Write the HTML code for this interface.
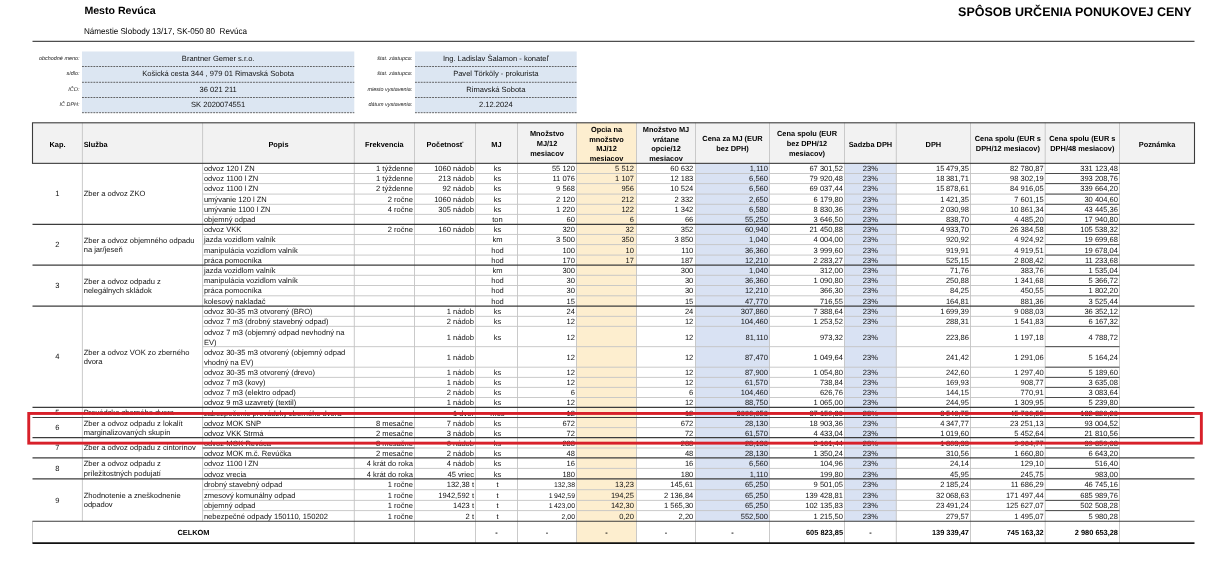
<!DOCTYPE html><html lang="sk"><head><meta charset="utf-8"><title>Spôsob určenia ponukovej ceny</title><style>
html,body{margin:0;padding:0;background:#fff;}
body{width:1223px;height:574px;position:relative;overflow:hidden;text-rendering:geometricPrecision;font-family:"Liberation Sans",sans-serif;color:#111;}
svg.g{position:absolute;left:0;top:0;}
.t{position:absolute;height:10px;line-height:10px;font-size:7.55px;white-space:nowrap;}
.t.l{text-align:left;}
.t.r{text-align:right;}
.t.c{text-align:center;}
.t.b{font-weight:bold;font-size:7.4px;color:#000;}
.t.sm{font-size:6.9px;}
.t.lab{font-style:italic;font-size:5.45px;color:#222;}
.t.val{font-size:7.55px;}
.ttl{position:absolute;white-space:nowrap;font-weight:bold;color:#000;}
</style></head><body>
<svg class="g" width="1223" height="574" viewBox="0 0 1223 574"><rect x="32.50" y="122.80" width="1162.00" height="40.55" fill="#f2f2f2"/>
<rect x="576.50" y="122.80" width="60.00" height="420.30" fill="#fdeecf"/>
<rect x="695.50" y="163.35" width="74.00" height="357.85" fill="#d9e2f3"/>
<rect x="844.50" y="163.35" width="51.80" height="357.85" fill="#d9e2f3"/>
<line x1="202.60" y1="173.50" x2="1119.50" y2="173.50" stroke="#c4c4c4" stroke-width="0.9"/>
<line x1="202.60" y1="183.60" x2="1119.50" y2="183.60" stroke="#c4c4c4" stroke-width="0.9"/>
<line x1="202.60" y1="194.10" x2="1119.50" y2="194.10" stroke="#c4c4c4" stroke-width="0.9"/>
<line x1="202.60" y1="204.30" x2="1119.50" y2="204.30" stroke="#c4c4c4" stroke-width="0.9"/>
<line x1="202.60" y1="214.40" x2="1119.50" y2="214.40" stroke="#c4c4c4" stroke-width="0.9"/>
<line x1="202.60" y1="234.45" x2="1119.50" y2="234.45" stroke="#c4c4c4" stroke-width="0.9"/>
<line x1="202.60" y1="244.60" x2="1119.50" y2="244.60" stroke="#c4c4c4" stroke-width="0.9"/>
<line x1="202.60" y1="255.10" x2="1119.50" y2="255.10" stroke="#c4c4c4" stroke-width="0.9"/>
<line x1="202.60" y1="275.30" x2="1119.50" y2="275.30" stroke="#c4c4c4" stroke-width="0.9"/>
<line x1="202.60" y1="285.50" x2="1119.50" y2="285.50" stroke="#c4c4c4" stroke-width="0.9"/>
<line x1="202.60" y1="295.80" x2="1119.50" y2="295.80" stroke="#c4c4c4" stroke-width="0.9"/>
<line x1="202.60" y1="316.35" x2="1119.50" y2="316.35" stroke="#c4c4c4" stroke-width="0.9"/>
<line x1="202.60" y1="326.35" x2="1119.50" y2="326.35" stroke="#c4c4c4" stroke-width="0.9"/>
<line x1="202.60" y1="346.65" x2="1119.50" y2="346.65" stroke="#c4c4c4" stroke-width="0.9"/>
<line x1="202.60" y1="367.20" x2="1119.50" y2="367.20" stroke="#c4c4c4" stroke-width="0.9"/>
<line x1="202.60" y1="377.40" x2="1119.50" y2="377.40" stroke="#c4c4c4" stroke-width="0.9"/>
<line x1="202.60" y1="387.40" x2="1119.50" y2="387.40" stroke="#c4c4c4" stroke-width="0.9"/>
<line x1="202.60" y1="397.50" x2="1119.50" y2="397.50" stroke="#c4c4c4" stroke-width="0.9"/>
<line x1="202.60" y1="427.60" x2="1119.50" y2="427.60" stroke="#c4c4c4" stroke-width="0.9"/>
<line x1="202.60" y1="448.00" x2="1119.50" y2="448.00" stroke="#c4c4c4" stroke-width="0.9"/>
<line x1="202.60" y1="468.40" x2="1119.50" y2="468.40" stroke="#c4c4c4" stroke-width="0.9"/>
<line x1="202.60" y1="489.70" x2="1119.50" y2="489.70" stroke="#c4c4c4" stroke-width="0.9"/>
<line x1="202.60" y1="500.40" x2="1119.50" y2="500.40" stroke="#c4c4c4" stroke-width="0.9"/>
<line x1="202.60" y1="510.60" x2="1119.50" y2="510.60" stroke="#c4c4c4" stroke-width="0.9"/>
<line x1="82.40" y1="122.80" x2="82.40" y2="521.20" stroke="#c4c4c4" stroke-width="0.9"/>
<line x1="202.60" y1="122.80" x2="202.60" y2="521.20" stroke="#c4c4c4" stroke-width="0.9"/>
<line x1="354.30" y1="122.80" x2="354.30" y2="543.10" stroke="#c4c4c4" stroke-width="0.9"/>
<line x1="414.50" y1="122.80" x2="414.50" y2="543.10" stroke="#c4c4c4" stroke-width="0.9"/>
<line x1="475.50" y1="122.80" x2="475.50" y2="543.10" stroke="#c4c4c4" stroke-width="0.9"/>
<line x1="517.50" y1="122.80" x2="517.50" y2="543.10" stroke="#c4c4c4" stroke-width="0.9"/>
<line x1="576.50" y1="122.80" x2="576.50" y2="543.10" stroke="#c4c4c4" stroke-width="0.9"/>
<line x1="636.50" y1="122.80" x2="636.50" y2="543.10" stroke="#c4c4c4" stroke-width="0.9"/>
<line x1="695.50" y1="122.80" x2="695.50" y2="543.10" stroke="#c4c4c4" stroke-width="0.9"/>
<line x1="769.50" y1="122.80" x2="769.50" y2="543.10" stroke="#c4c4c4" stroke-width="0.9"/>
<line x1="844.50" y1="122.80" x2="844.50" y2="543.10" stroke="#c4c4c4" stroke-width="0.9"/>
<line x1="896.30" y1="122.80" x2="896.30" y2="543.10" stroke="#c4c4c4" stroke-width="0.9"/>
<line x1="970.50" y1="122.80" x2="970.50" y2="543.10" stroke="#c4c4c4" stroke-width="0.9"/>
<line x1="1045.20" y1="122.80" x2="1045.20" y2="543.10" stroke="#c4c4c4" stroke-width="0.9"/>
<line x1="1119.50" y1="122.80" x2="1119.50" y2="543.10" stroke="#c4c4c4" stroke-width="0.9"/>
<line x1="32.50" y1="521.20" x2="32.50" y2="543.10" stroke="#c4c4c4" stroke-width="0.9"/>
<line x1="1045.20" y1="173.50" x2="1119.50" y2="173.50" stroke="#3c3c3c" stroke-width="0.9"/>
<line x1="1045.20" y1="183.60" x2="1119.50" y2="183.60" stroke="#3c3c3c" stroke-width="0.9"/>
<line x1="1045.20" y1="194.10" x2="1119.50" y2="194.10" stroke="#3c3c3c" stroke-width="0.9"/>
<line x1="1045.20" y1="204.30" x2="1119.50" y2="204.30" stroke="#3c3c3c" stroke-width="0.9"/>
<line x1="1045.20" y1="214.40" x2="1119.50" y2="214.40" stroke="#3c3c3c" stroke-width="0.9"/>
<line x1="1045.20" y1="234.45" x2="1119.50" y2="234.45" stroke="#3c3c3c" stroke-width="0.9"/>
<line x1="1045.20" y1="244.60" x2="1119.50" y2="244.60" stroke="#3c3c3c" stroke-width="0.9"/>
<line x1="1045.20" y1="255.10" x2="1119.50" y2="255.10" stroke="#3c3c3c" stroke-width="0.9"/>
<line x1="1045.20" y1="275.30" x2="1119.50" y2="275.30" stroke="#3c3c3c" stroke-width="0.9"/>
<line x1="1045.20" y1="285.50" x2="1119.50" y2="285.50" stroke="#3c3c3c" stroke-width="0.9"/>
<line x1="1045.20" y1="295.80" x2="1119.50" y2="295.80" stroke="#3c3c3c" stroke-width="0.9"/>
<line x1="1045.20" y1="316.35" x2="1119.50" y2="316.35" stroke="#3c3c3c" stroke-width="0.9"/>
<line x1="1045.20" y1="326.35" x2="1119.50" y2="326.35" stroke="#3c3c3c" stroke-width="0.9"/>
<line x1="1045.20" y1="346.65" x2="1119.50" y2="346.65" stroke="#3c3c3c" stroke-width="0.9"/>
<line x1="1045.20" y1="367.20" x2="1119.50" y2="367.20" stroke="#3c3c3c" stroke-width="0.9"/>
<line x1="1045.20" y1="377.40" x2="1119.50" y2="377.40" stroke="#3c3c3c" stroke-width="0.9"/>
<line x1="1045.20" y1="387.40" x2="1119.50" y2="387.40" stroke="#3c3c3c" stroke-width="0.9"/>
<line x1="1045.20" y1="397.50" x2="1119.50" y2="397.50" stroke="#3c3c3c" stroke-width="0.9"/>
<line x1="1045.20" y1="427.60" x2="1119.50" y2="427.60" stroke="#3c3c3c" stroke-width="0.9"/>
<line x1="1045.20" y1="448.00" x2="1119.50" y2="448.00" stroke="#3c3c3c" stroke-width="0.9"/>
<line x1="1045.20" y1="468.40" x2="1119.50" y2="468.40" stroke="#3c3c3c" stroke-width="0.9"/>
<line x1="1045.20" y1="489.70" x2="1119.50" y2="489.70" stroke="#3c3c3c" stroke-width="0.9"/>
<line x1="1045.20" y1="500.40" x2="1119.50" y2="500.40" stroke="#3c3c3c" stroke-width="0.9"/>
<line x1="1045.20" y1="510.60" x2="1119.50" y2="510.60" stroke="#3c3c3c" stroke-width="0.9"/>
<line x1="202.60" y1="427.60" x2="414.50" y2="427.60" stroke="#3c3c3c" stroke-width="0.9"/>
<line x1="202.60" y1="448.00" x2="414.50" y2="448.00" stroke="#3c3c3c" stroke-width="0.9"/>
<line x1="32.50" y1="224.35" x2="1194.50" y2="224.35" stroke="#3c3c3c" stroke-width="1.1"/>
<line x1="32.50" y1="265.10" x2="1194.50" y2="265.10" stroke="#3c3c3c" stroke-width="1.1"/>
<line x1="32.50" y1="306.10" x2="1194.50" y2="306.10" stroke="#3c3c3c" stroke-width="1.1"/>
<line x1="32.50" y1="407.40" x2="1194.50" y2="407.40" stroke="#3c3c3c" stroke-width="1.1"/>
<line x1="32.50" y1="417.50" x2="1194.50" y2="417.50" stroke="#3c3c3c" stroke-width="1.1"/>
<line x1="32.50" y1="437.60" x2="1194.50" y2="437.60" stroke="#3c3c3c" stroke-width="1.1"/>
<line x1="32.50" y1="457.90" x2="1194.50" y2="457.90" stroke="#3c3c3c" stroke-width="1.1"/>
<line x1="32.50" y1="478.90" x2="1194.50" y2="478.90" stroke="#3c3c3c" stroke-width="1.1"/>
<line x1="32.50" y1="521.20" x2="1194.50" y2="521.20" stroke="#3c3c3c" stroke-width="1.1"/>
<rect x="32.50" y="122.80" width="1162.00" height="40.55" fill="none" stroke="#3c3c3c" stroke-width="1.1"/>
<line x1="32.50" y1="543.10" x2="1194.50" y2="543.10" stroke="#111" stroke-width="1.6"/>
<line x1="32.50" y1="41.30" x2="1194.50" y2="41.30" stroke="#222" stroke-width="1.0"/>
<rect x="82.00" y="51.50" width="272.30" height="61.20" fill="#dce6f2"/>
<rect x="415.00" y="51.50" width="161.70" height="61.20" fill="#dce6f2"/>
<line x1="82.00" y1="66.50" x2="354.30" y2="66.50" stroke="#555" stroke-width="0.9" stroke-dasharray="1.9 0.95"/>
<line x1="415.00" y1="66.50" x2="576.70" y2="66.50" stroke="#555" stroke-width="0.9" stroke-dasharray="1.9 0.95"/>
<line x1="82.00" y1="82.30" x2="354.30" y2="82.30" stroke="#555" stroke-width="0.9" stroke-dasharray="1.9 0.95"/>
<line x1="415.00" y1="82.30" x2="576.70" y2="82.30" stroke="#555" stroke-width="0.9" stroke-dasharray="1.9 0.95"/>
<line x1="82.00" y1="97.50" x2="354.30" y2="97.50" stroke="#555" stroke-width="0.9" stroke-dasharray="1.9 0.95"/>
<line x1="415.00" y1="97.50" x2="576.70" y2="97.50" stroke="#555" stroke-width="0.9" stroke-dasharray="1.9 0.95"/>
<line x1="82.00" y1="112.70" x2="354.30" y2="112.70" stroke="#555" stroke-width="0.9" stroke-dasharray="1.9 0.95"/>
<line x1="415.00" y1="112.70" x2="576.70" y2="112.70" stroke="#555" stroke-width="0.9" stroke-dasharray="1.9 0.95"/></svg>
<div class="ttl" style="left:84.4px;top:4.2px;font-size:10.6px;line-height:14px;">Mesto Revúca</div>
<div class="ttl" style="left:84.4px;top:24.6px;font-size:8.5px;line-height:12px;font-weight:normal;color:#000;transform:scaleX(0.953);transform-origin:0 0;">Námestie Slobody 13/17, SK-050 80 &nbsp;Revúca</div>
<div class="ttl" style="right:31.3px;top:3.8px;font-size:12.5px;line-height:16px;">SPÔSOB URČENIA PONUKOVEJ CENY</div>
<div class="t c b" style="left:32.50px;top:140px;width:49.90px">Kap.</div>
<div class="t l b" style="left:83.70px;top:140px;width:118.90px">Služba</div>
<div class="t c b" style="left:202.60px;top:140px;width:151.70px">Popis</div>
<div class="t c b" style="left:354.30px;top:140px;width:60.20px">Frekvencia</div>
<div class="t c b" style="left:414.50px;top:140px;width:61.00px">Početnosť</div>
<div class="t c b" style="left:475.50px;top:140px;width:42.00px">MJ</div>
<div class="t c b" style="left:517.50px;top:129px;width:59.00px">Množstvo</div>
<div class="t c b" style="left:517.50px;top:139px;width:59.00px">MJ/12</div>
<div class="t c b" style="left:517.50px;top:149px;width:59.00px">mesiacov</div>
<div class="t c b" style="left:576.50px;top:125px;width:60.00px">Opcia na</div>
<div class="t c b" style="left:576.50px;top:135px;width:60.00px">množstvo</div>
<div class="t c b" style="left:576.50px;top:144px;width:60.00px">MJ/12</div>
<div class="t c b" style="left:576.50px;top:154px;width:60.00px">mesiacov</div>
<div class="t c b" style="left:636.50px;top:125px;width:59.00px">Množstvo MJ</div>
<div class="t c b" style="left:636.50px;top:135px;width:59.00px">vrátane</div>
<div class="t c b" style="left:636.50px;top:144px;width:59.00px">opcie/12</div>
<div class="t c b" style="left:636.50px;top:154px;width:59.00px">mesiacov</div>
<div class="t c b" style="left:695.50px;top:134px;width:74.00px">Cena za MJ (EUR</div>
<div class="t c b" style="left:695.50px;top:144px;width:74.00px">bez DPH)</div>
<div class="t c b" style="left:769.50px;top:129px;width:75.00px">Cena spolu (EUR</div>
<div class="t c b" style="left:769.50px;top:139px;width:75.00px">bez DPH/12</div>
<div class="t c b" style="left:769.50px;top:149px;width:75.00px">mesiacov)</div>
<div class="t c b" style="left:844.50px;top:140px;width:51.80px">Sadzba DPH</div>
<div class="t c b" style="left:896.30px;top:140px;width:74.20px">DPH</div>
<div class="t c b" style="left:970.50px;top:134px;width:74.70px">Cena spolu (EUR s</div>
<div class="t c b" style="left:970.50px;top:144px;width:74.70px">DPH/12 mesiacov)</div>
<div class="t c b" style="left:1045.20px;top:134px;width:74.30px">Cena spolu (EUR s</div>
<div class="t c b" style="left:1045.20px;top:144px;width:74.30px">DPH/48 mesiacov)</div>
<div class="t c b" style="left:1119.50px;top:140px;width:75.00px">Poznámka</div>
<div class="t c" style="left:32.50px;top:189px;width:49.90px">1</div>
<div class="t l" style="left:83.70px;top:189px;width:118.90px">Zber a odvoz ZKO</div>
<div class="t l" style="left:203.90px;top:164px;width:150.40px">odvoz 120 l ZN</div>
<div class="t r" style="left:354.30px;top:164px;width:58.70px">1 týždenne</div>
<div class="t r" style="left:414.50px;top:164px;width:59.50px">1060 nádob</div>
<div class="t c" style="left:477.50px;top:164px;width:40.00px">ks</div>
<div class="t r" style="left:517.50px;top:164px;width:57.50px">55 120</div>
<div class="t r" style="left:576.50px;top:164px;width:57.50px">5 512</div>
<div class="t r" style="left:636.50px;top:164px;width:56.80px">60 632</div>
<div class="t r" style="left:695.50px;top:164px;width:72.50px">1,110</div>
<div class="t r" style="left:769.50px;top:164px;width:73.50px">67 301,52</div>
<div class="t c" style="left:844.50px;top:164px;width:51.80px">23%</div>
<div class="t r" style="left:896.30px;top:164px;width:72.70px">15&#8201;479,35</div>
<div class="t r" style="left:970.50px;top:164px;width:73.20px">82 780,87</div>
<div class="t r" style="left:1045.20px;top:164px;width:72.80px">331 123,48</div>
<div class="t l" style="left:203.90px;top:174px;width:150.40px">odvoz 1100 l ZN</div>
<div class="t r" style="left:354.30px;top:174px;width:58.70px">1 týždenne</div>
<div class="t r" style="left:414.50px;top:174px;width:59.50px">213 nádob</div>
<div class="t c" style="left:477.50px;top:174px;width:40.00px">ks</div>
<div class="t r" style="left:517.50px;top:174px;width:57.50px">11 076</div>
<div class="t r" style="left:576.50px;top:174px;width:57.50px">1 107</div>
<div class="t r" style="left:636.50px;top:174px;width:56.80px">12 183</div>
<div class="t r" style="left:695.50px;top:174px;width:72.50px">6,560</div>
<div class="t r" style="left:769.50px;top:174px;width:73.50px">79 920,48</div>
<div class="t c" style="left:844.50px;top:174px;width:51.80px">23%</div>
<div class="t r" style="left:896.30px;top:174px;width:72.70px">18&#8201;381,71</div>
<div class="t r" style="left:970.50px;top:174px;width:73.20px">98 302,19</div>
<div class="t r" style="left:1045.20px;top:174px;width:72.80px">393 208,76</div>
<div class="t l" style="left:203.90px;top:184px;width:150.40px">odvoz 1100 l ZN</div>
<div class="t r" style="left:354.30px;top:184px;width:58.70px">2 týždenne</div>
<div class="t r" style="left:414.50px;top:184px;width:59.50px">92 nádob</div>
<div class="t c" style="left:477.50px;top:184px;width:40.00px">ks</div>
<div class="t r" style="left:517.50px;top:184px;width:57.50px">9 568</div>
<div class="t r" style="left:576.50px;top:184px;width:57.50px">956</div>
<div class="t r" style="left:636.50px;top:184px;width:56.80px">10 524</div>
<div class="t r" style="left:695.50px;top:184px;width:72.50px">6,560</div>
<div class="t r" style="left:769.50px;top:184px;width:73.50px">69 037,44</div>
<div class="t c" style="left:844.50px;top:184px;width:51.80px">23%</div>
<div class="t r" style="left:896.30px;top:184px;width:72.70px">15&#8201;878,61</div>
<div class="t r" style="left:970.50px;top:184px;width:73.20px">84 916,05</div>
<div class="t r" style="left:1045.20px;top:184px;width:72.80px">339 664,20</div>
<div class="t l" style="left:203.90px;top:195px;width:150.40px">umývanie 120 l ZN</div>
<div class="t r" style="left:354.30px;top:195px;width:58.70px">2 ročne</div>
<div class="t r" style="left:414.50px;top:195px;width:59.50px">1060 nádob</div>
<div class="t c" style="left:477.50px;top:195px;width:40.00px">ks</div>
<div class="t r" style="left:517.50px;top:195px;width:57.50px">2 120</div>
<div class="t r" style="left:576.50px;top:195px;width:57.50px">212</div>
<div class="t r" style="left:636.50px;top:195px;width:56.80px">2 332</div>
<div class="t r" style="left:695.50px;top:195px;width:72.50px">2,650</div>
<div class="t r" style="left:769.50px;top:195px;width:73.50px">6 179,80</div>
<div class="t c" style="left:844.50px;top:195px;width:51.80px">23%</div>
<div class="t r" style="left:896.30px;top:195px;width:72.70px">1&#8201;421,35</div>
<div class="t r" style="left:970.50px;top:195px;width:73.20px">7 601,15</div>
<div class="t r" style="left:1045.20px;top:195px;width:72.80px">30 404,60</div>
<div class="t l" style="left:203.90px;top:205px;width:150.40px">umývanie 1100 l ZN</div>
<div class="t r" style="left:354.30px;top:205px;width:58.70px">4 ročne</div>
<div class="t r" style="left:414.50px;top:205px;width:59.50px">305 nádob</div>
<div class="t c" style="left:477.50px;top:205px;width:40.00px">ks</div>
<div class="t r" style="left:517.50px;top:205px;width:57.50px">1 220</div>
<div class="t r" style="left:576.50px;top:205px;width:57.50px">122</div>
<div class="t r" style="left:636.50px;top:205px;width:56.80px">1 342</div>
<div class="t r" style="left:695.50px;top:205px;width:72.50px">6,580</div>
<div class="t r" style="left:769.50px;top:205px;width:73.50px">8 830,36</div>
<div class="t c" style="left:844.50px;top:205px;width:51.80px">23%</div>
<div class="t r" style="left:896.30px;top:205px;width:72.70px">2&#8201;030,98</div>
<div class="t r" style="left:970.50px;top:205px;width:73.20px">10 861,34</div>
<div class="t r" style="left:1045.20px;top:205px;width:72.80px">43 445,36</div>
<div class="t l" style="left:203.90px;top:215px;width:150.40px">objemný odpad</div>
<div class="t c" style="left:477.50px;top:215px;width:40.00px">ton</div>
<div class="t r" style="left:517.50px;top:215px;width:57.50px">60</div>
<div class="t r" style="left:576.50px;top:215px;width:57.50px">6</div>
<div class="t r" style="left:636.50px;top:215px;width:56.80px">66</div>
<div class="t r" style="left:695.50px;top:215px;width:72.50px">55,250</div>
<div class="t r" style="left:769.50px;top:215px;width:73.50px">3 646,50</div>
<div class="t c" style="left:844.50px;top:215px;width:51.80px">23%</div>
<div class="t r" style="left:896.30px;top:215px;width:72.70px">838,70</div>
<div class="t r" style="left:970.50px;top:215px;width:73.20px">4 485,20</div>
<div class="t r" style="left:1045.20px;top:215px;width:72.80px">17 940,80</div>
<div class="t c" style="left:32.50px;top:240px;width:49.90px">2</div>
<div class="t l" style="left:83.70px;top:236px;width:118.90px">Zber a odvoz objemného odpadu</div>
<div class="t l" style="left:83.70px;top:245px;width:118.90px">na jar/jeseň</div>
<div class="t l" style="left:203.90px;top:225px;width:150.40px">odvoz VKK</div>
<div class="t r" style="left:354.30px;top:225px;width:58.70px">2 ročne</div>
<div class="t r" style="left:414.50px;top:225px;width:59.50px">160 nádob</div>
<div class="t c" style="left:477.50px;top:225px;width:40.00px">ks</div>
<div class="t r" style="left:517.50px;top:225px;width:57.50px">320</div>
<div class="t r" style="left:576.50px;top:225px;width:57.50px">32</div>
<div class="t r" style="left:636.50px;top:225px;width:56.80px">352</div>
<div class="t r" style="left:695.50px;top:225px;width:72.50px">60,940</div>
<div class="t r" style="left:769.50px;top:225px;width:73.50px">21 450,88</div>
<div class="t c" style="left:844.50px;top:225px;width:51.80px">23%</div>
<div class="t r" style="left:896.30px;top:225px;width:72.70px">4&#8201;933,70</div>
<div class="t r" style="left:970.50px;top:225px;width:73.20px">26 384,58</div>
<div class="t r" style="left:1045.20px;top:225px;width:72.80px">105 538,32</div>
<div class="t l" style="left:203.90px;top:235px;width:150.40px">jazda vozidlom valník</div>
<div class="t c" style="left:477.50px;top:235px;width:40.00px">km</div>
<div class="t r" style="left:517.50px;top:235px;width:57.50px">3 500</div>
<div class="t r" style="left:576.50px;top:235px;width:57.50px">350</div>
<div class="t r" style="left:636.50px;top:235px;width:56.80px">3 850</div>
<div class="t r" style="left:695.50px;top:235px;width:72.50px">1,040</div>
<div class="t r" style="left:769.50px;top:235px;width:73.50px">4 004,00</div>
<div class="t c" style="left:844.50px;top:235px;width:51.80px">23%</div>
<div class="t r" style="left:896.30px;top:235px;width:72.70px">920,92</div>
<div class="t r" style="left:970.50px;top:235px;width:73.20px">4 924,92</div>
<div class="t r" style="left:1045.20px;top:235px;width:72.80px">19 699,68</div>
<div class="t l" style="left:203.90px;top:246px;width:150.40px">manipulácia vozidlom valník</div>
<div class="t c" style="left:477.50px;top:246px;width:40.00px">hod</div>
<div class="t r" style="left:517.50px;top:246px;width:57.50px">100</div>
<div class="t r" style="left:576.50px;top:246px;width:57.50px">10</div>
<div class="t r" style="left:636.50px;top:246px;width:56.80px">110</div>
<div class="t r" style="left:695.50px;top:246px;width:72.50px">36,360</div>
<div class="t r" style="left:769.50px;top:246px;width:73.50px">3 999,60</div>
<div class="t c" style="left:844.50px;top:246px;width:51.80px">23%</div>
<div class="t r" style="left:896.30px;top:246px;width:72.70px">919,91</div>
<div class="t r" style="left:970.50px;top:246px;width:73.20px">4 919,51</div>
<div class="t r" style="left:1045.20px;top:246px;width:72.80px">19 678,04</div>
<div class="t l" style="left:203.90px;top:256px;width:150.40px">práca pomocníka</div>
<div class="t c" style="left:477.50px;top:256px;width:40.00px">hod</div>
<div class="t r" style="left:517.50px;top:256px;width:57.50px">170</div>
<div class="t r" style="left:576.50px;top:256px;width:57.50px">17</div>
<div class="t r" style="left:636.50px;top:256px;width:56.80px">187</div>
<div class="t r" style="left:695.50px;top:256px;width:72.50px">12,210</div>
<div class="t r" style="left:769.50px;top:256px;width:73.50px">2 283,27</div>
<div class="t c" style="left:844.50px;top:256px;width:51.80px">23%</div>
<div class="t r" style="left:896.30px;top:256px;width:72.70px">525,15</div>
<div class="t r" style="left:970.50px;top:256px;width:73.20px">2 808,42</div>
<div class="t r" style="left:1045.20px;top:256px;width:72.80px">11 233,68</div>
<div class="t c" style="left:32.50px;top:281px;width:49.90px">3</div>
<div class="t l" style="left:83.70px;top:277px;width:118.90px">Zber a odvoz odpadu z</div>
<div class="t l" style="left:83.70px;top:286px;width:118.90px">nelegálnych skládok</div>
<div class="t l" style="left:203.90px;top:266px;width:150.40px">jazda vozidlom valník</div>
<div class="t c" style="left:477.50px;top:266px;width:40.00px">km</div>
<div class="t r" style="left:517.50px;top:266px;width:57.50px">300</div>
<div class="t r" style="left:636.50px;top:266px;width:56.80px">300</div>
<div class="t r" style="left:695.50px;top:266px;width:72.50px">1,040</div>
<div class="t r" style="left:769.50px;top:266px;width:73.50px">312,00</div>
<div class="t c" style="left:844.50px;top:266px;width:51.80px">23%</div>
<div class="t r" style="left:896.30px;top:266px;width:72.70px">71,76</div>
<div class="t r" style="left:970.50px;top:266px;width:73.20px">383,76</div>
<div class="t r" style="left:1045.20px;top:266px;width:72.80px">1 535,04</div>
<div class="t l" style="left:203.90px;top:276px;width:150.40px">manipulácia vozidlom valník</div>
<div class="t c" style="left:477.50px;top:276px;width:40.00px">hod</div>
<div class="t r" style="left:517.50px;top:276px;width:57.50px">30</div>
<div class="t r" style="left:636.50px;top:276px;width:56.80px">30</div>
<div class="t r" style="left:695.50px;top:276px;width:72.50px">36,360</div>
<div class="t r" style="left:769.50px;top:276px;width:73.50px">1 090,80</div>
<div class="t c" style="left:844.50px;top:276px;width:51.80px">23%</div>
<div class="t r" style="left:896.30px;top:276px;width:72.70px">250,88</div>
<div class="t r" style="left:970.50px;top:276px;width:73.20px">1 341,68</div>
<div class="t r" style="left:1045.20px;top:276px;width:72.80px">5 366,72</div>
<div class="t l" style="left:203.90px;top:286px;width:150.40px">práca pomocníka</div>
<div class="t c" style="left:477.50px;top:286px;width:40.00px">hod</div>
<div class="t r" style="left:517.50px;top:286px;width:57.50px">30</div>
<div class="t r" style="left:636.50px;top:286px;width:56.80px">30</div>
<div class="t r" style="left:695.50px;top:286px;width:72.50px">12,210</div>
<div class="t r" style="left:769.50px;top:286px;width:73.50px">366,30</div>
<div class="t c" style="left:844.50px;top:286px;width:51.80px">23%</div>
<div class="t r" style="left:896.30px;top:286px;width:72.70px">84,25</div>
<div class="t r" style="left:970.50px;top:286px;width:73.20px">450,55</div>
<div class="t r" style="left:1045.20px;top:286px;width:72.80px">1 802,20</div>
<div class="t l" style="left:203.90px;top:297px;width:150.40px">kolesový nakladač</div>
<div class="t c" style="left:477.50px;top:297px;width:40.00px">hod</div>
<div class="t r" style="left:517.50px;top:297px;width:57.50px">15</div>
<div class="t r" style="left:636.50px;top:297px;width:56.80px">15</div>
<div class="t r" style="left:695.50px;top:297px;width:72.50px">47,770</div>
<div class="t r" style="left:769.50px;top:297px;width:73.50px">716,55</div>
<div class="t c" style="left:844.50px;top:297px;width:51.80px">23%</div>
<div class="t r" style="left:896.30px;top:297px;width:72.70px">164,81</div>
<div class="t r" style="left:970.50px;top:297px;width:73.20px">881,36</div>
<div class="t r" style="left:1045.20px;top:297px;width:72.80px">3 525,44</div>
<div class="t c" style="left:32.50px;top:352px;width:49.90px">4</div>
<div class="t l" style="left:83.70px;top:348px;width:118.90px">Zber a odvoz VOK zo zberného</div>
<div class="t l" style="left:83.70px;top:357px;width:118.90px">dvora</div>
<div class="t l" style="left:203.90px;top:307px;width:150.40px">odvoz 30-35 m3 otvorený (BRO)</div>
<div class="t r" style="left:414.50px;top:307px;width:59.50px">1 nádob</div>
<div class="t c" style="left:477.50px;top:307px;width:40.00px">ks</div>
<div class="t r" style="left:517.50px;top:307px;width:57.50px">24</div>
<div class="t r" style="left:636.50px;top:307px;width:56.80px">24</div>
<div class="t r" style="left:695.50px;top:307px;width:72.50px">307,860</div>
<div class="t r" style="left:769.50px;top:307px;width:73.50px">7 388,64</div>
<div class="t c" style="left:844.50px;top:307px;width:51.80px">23%</div>
<div class="t r" style="left:896.30px;top:307px;width:72.70px">1&#8201;699,39</div>
<div class="t r" style="left:970.50px;top:307px;width:73.20px">9 088,03</div>
<div class="t r" style="left:1045.20px;top:307px;width:72.80px">36 352,12</div>
<div class="t l" style="left:203.90px;top:317px;width:150.40px">odvoz 7 m3 (drobný stavebný odpad)</div>
<div class="t r" style="left:414.50px;top:317px;width:59.50px">2 nádob</div>
<div class="t c" style="left:477.50px;top:317px;width:40.00px">ks</div>
<div class="t r" style="left:517.50px;top:317px;width:57.50px">12</div>
<div class="t r" style="left:636.50px;top:317px;width:56.80px">12</div>
<div class="t r" style="left:695.50px;top:317px;width:72.50px">104,460</div>
<div class="t r" style="left:769.50px;top:317px;width:73.50px">1 253,52</div>
<div class="t c" style="left:844.50px;top:317px;width:51.80px">23%</div>
<div class="t r" style="left:896.30px;top:317px;width:72.70px">288,31</div>
<div class="t r" style="left:970.50px;top:317px;width:73.20px">1 541,83</div>
<div class="t r" style="left:1045.20px;top:317px;width:72.80px">6 167,32</div>
<div class="t l" style="left:203.90px;top:328px;width:150.40px">odvoz 7 m3 (objemný odpad nevhodný na</div>
<div class="t l" style="left:203.90px;top:338px;width:150.40px">EV)</div>
<div class="t r" style="left:414.50px;top:333px;width:59.50px">1 nádob</div>
<div class="t c" style="left:477.50px;top:333px;width:40.00px">ks</div>
<div class="t r" style="left:517.50px;top:333px;width:57.50px">12</div>
<div class="t r" style="left:636.50px;top:333px;width:56.80px">12</div>
<div class="t r" style="left:695.50px;top:333px;width:72.50px">81,110</div>
<div class="t r" style="left:769.50px;top:333px;width:73.50px">973,32</div>
<div class="t c" style="left:844.50px;top:333px;width:51.80px">23%</div>
<div class="t r" style="left:896.30px;top:333px;width:72.70px">223,86</div>
<div class="t r" style="left:970.50px;top:333px;width:73.20px">1 197,18</div>
<div class="t r" style="left:1045.20px;top:333px;width:72.80px">4 788,72</div>
<div class="t l" style="left:203.90px;top:348px;width:150.40px">odvoz 30-35 m3 otvorený (objemný odpad</div>
<div class="t l" style="left:203.90px;top:358px;width:150.40px">vhodný na EV)</div>
<div class="t r" style="left:414.50px;top:353px;width:59.50px">1 nádob</div>
<div class="t r" style="left:517.50px;top:353px;width:57.50px">12</div>
<div class="t r" style="left:636.50px;top:353px;width:56.80px">12</div>
<div class="t r" style="left:695.50px;top:353px;width:72.50px">87,470</div>
<div class="t r" style="left:769.50px;top:353px;width:73.50px">1 049,64</div>
<div class="t c" style="left:844.50px;top:353px;width:51.80px">23%</div>
<div class="t r" style="left:896.30px;top:353px;width:72.70px">241,42</div>
<div class="t r" style="left:970.50px;top:353px;width:73.20px">1 291,06</div>
<div class="t r" style="left:1045.20px;top:353px;width:72.80px">5 164,24</div>
<div class="t l" style="left:203.90px;top:368px;width:150.40px">odvoz 30-35 m3 otvorený (drevo)</div>
<div class="t r" style="left:414.50px;top:368px;width:59.50px">1 nádob</div>
<div class="t c" style="left:477.50px;top:368px;width:40.00px">ks</div>
<div class="t r" style="left:517.50px;top:368px;width:57.50px">12</div>
<div class="t r" style="left:636.50px;top:368px;width:56.80px">12</div>
<div class="t r" style="left:695.50px;top:368px;width:72.50px">87,900</div>
<div class="t r" style="left:769.50px;top:368px;width:73.50px">1 054,80</div>
<div class="t c" style="left:844.50px;top:368px;width:51.80px">23%</div>
<div class="t r" style="left:896.30px;top:368px;width:72.70px">242,60</div>
<div class="t r" style="left:970.50px;top:368px;width:73.20px">1 297,40</div>
<div class="t r" style="left:1045.20px;top:368px;width:72.80px">5 189,60</div>
<div class="t l" style="left:203.90px;top:378px;width:150.40px">odvoz 7 m3 (kovy)</div>
<div class="t r" style="left:414.50px;top:378px;width:59.50px">1 nádob</div>
<div class="t c" style="left:477.50px;top:378px;width:40.00px">ks</div>
<div class="t r" style="left:517.50px;top:378px;width:57.50px">12</div>
<div class="t r" style="left:636.50px;top:378px;width:56.80px">12</div>
<div class="t r" style="left:695.50px;top:378px;width:72.50px">61,570</div>
<div class="t r" style="left:769.50px;top:378px;width:73.50px">738,84</div>
<div class="t c" style="left:844.50px;top:378px;width:51.80px">23%</div>
<div class="t r" style="left:896.30px;top:378px;width:72.70px">169,93</div>
<div class="t r" style="left:970.50px;top:378px;width:73.20px">908,77</div>
<div class="t r" style="left:1045.20px;top:378px;width:72.80px">3 635,08</div>
<div class="t l" style="left:203.90px;top:388px;width:150.40px">odvoz 7 m3 (elektro odpad)</div>
<div class="t r" style="left:414.50px;top:388px;width:59.50px">2 nádob</div>
<div class="t c" style="left:477.50px;top:388px;width:40.00px">ks</div>
<div class="t r" style="left:517.50px;top:388px;width:57.50px">6</div>
<div class="t r" style="left:636.50px;top:388px;width:56.80px">6</div>
<div class="t r" style="left:695.50px;top:388px;width:72.50px">104,460</div>
<div class="t r" style="left:769.50px;top:388px;width:73.50px">626,76</div>
<div class="t c" style="left:844.50px;top:388px;width:51.80px">23%</div>
<div class="t r" style="left:896.30px;top:388px;width:72.70px">144,15</div>
<div class="t r" style="left:970.50px;top:388px;width:73.20px">770,91</div>
<div class="t r" style="left:1045.20px;top:388px;width:72.80px">3 083,64</div>
<div class="t l" style="left:203.90px;top:398px;width:150.40px">odvoz 9 m3 uzavretý (textil)</div>
<div class="t r" style="left:414.50px;top:398px;width:59.50px">1 nádob</div>
<div class="t c" style="left:477.50px;top:398px;width:40.00px">ks</div>
<div class="t r" style="left:517.50px;top:398px;width:57.50px">12</div>
<div class="t r" style="left:636.50px;top:398px;width:56.80px">12</div>
<div class="t r" style="left:695.50px;top:398px;width:72.50px">88,750</div>
<div class="t r" style="left:769.50px;top:398px;width:73.50px">1 065,00</div>
<div class="t c" style="left:844.50px;top:398px;width:51.80px">23%</div>
<div class="t r" style="left:896.30px;top:398px;width:72.70px">244,95</div>
<div class="t r" style="left:970.50px;top:398px;width:73.20px">1 309,95</div>
<div class="t r" style="left:1045.20px;top:398px;width:72.80px">5 239,80</div>
<div class="t c" style="left:32.50px;top:408px;width:49.90px">5</div>
<div class="t l" style="left:83.70px;top:408px;width:118.90px">Prevádzka zberného dvora</div>
<div class="t l" style="left:203.90px;top:409px;width:150.40px">zabezpečenie prevádzky zberného dvora</div>
<div class="t r" style="left:414.50px;top:409px;width:59.50px">1 dvor</div>
<div class="t c" style="left:477.50px;top:409px;width:40.00px">mes</div>
<div class="t r" style="left:517.50px;top:409px;width:57.50px">12</div>
<div class="t r" style="left:636.50px;top:409px;width:56.80px">12</div>
<div class="t r" style="left:695.50px;top:409px;width:72.50px">3096,650</div>
<div class="t r" style="left:769.50px;top:409px;width:73.50px">37 159,80</div>
<div class="t c" style="left:844.50px;top:409px;width:51.80px">23%</div>
<div class="t r" style="left:896.30px;top:409px;width:72.70px">8&#8201;546,75</div>
<div class="t r" style="left:970.50px;top:409px;width:73.20px">45 706,55</div>
<div class="t r" style="left:1045.20px;top:409px;width:72.80px">182 826,20</div>
<div class="t c" style="left:32.50px;top:423px;width:49.90px">6</div>
<div class="t l" style="left:83.70px;top:419px;width:118.90px">Zber a odvoz odpadu z lokalít</div>
<div class="t l" style="left:83.70px;top:428px;width:118.90px">marginalizovaných skupín</div>
<div class="t l" style="left:203.90px;top:419px;width:150.40px">odvoz MOK SNP</div>
<div class="t r" style="left:354.30px;top:419px;width:58.70px">8 mesačne</div>
<div class="t r" style="left:414.50px;top:419px;width:59.50px">7 nádob</div>
<div class="t c" style="left:477.50px;top:419px;width:40.00px">ks</div>
<div class="t r" style="left:517.50px;top:419px;width:57.50px">672</div>
<div class="t r" style="left:636.50px;top:419px;width:56.80px">672</div>
<div class="t r" style="left:695.50px;top:419px;width:72.50px">28,130</div>
<div class="t r" style="left:769.50px;top:419px;width:73.50px">18 903,36</div>
<div class="t c" style="left:844.50px;top:419px;width:51.80px">23%</div>
<div class="t r" style="left:896.30px;top:419px;width:72.70px">4&#8201;347,77</div>
<div class="t r" style="left:970.50px;top:419px;width:73.20px">23 251,13</div>
<div class="t r" style="left:1045.20px;top:419px;width:72.80px">93 004,52</div>
<div class="t l" style="left:203.90px;top:429px;width:150.40px">odvoz VKK Strmá</div>
<div class="t r" style="left:354.30px;top:429px;width:58.70px">2 mesačne</div>
<div class="t r" style="left:414.50px;top:429px;width:59.50px">3 nádob</div>
<div class="t c" style="left:477.50px;top:429px;width:40.00px">ks</div>
<div class="t r" style="left:517.50px;top:429px;width:57.50px">72</div>
<div class="t r" style="left:636.50px;top:429px;width:56.80px">72</div>
<div class="t r" style="left:695.50px;top:429px;width:72.50px">61,570</div>
<div class="t r" style="left:769.50px;top:429px;width:73.50px">4 433,04</div>
<div class="t c" style="left:844.50px;top:429px;width:51.80px">23%</div>
<div class="t r" style="left:896.30px;top:429px;width:72.70px">1&#8201;019,60</div>
<div class="t r" style="left:970.50px;top:429px;width:73.20px">5 452,64</div>
<div class="t r" style="left:1045.20px;top:429px;width:72.80px">21 810,56</div>
<div class="t c" style="left:32.50px;top:443px;width:49.90px">7</div>
<div class="t l" style="left:83.70px;top:443px;width:118.90px">Zber a odvoz odpadu z cintorínov</div>
<div class="t l" style="left:203.90px;top:439px;width:150.40px">odvoz MOK Revúca</div>
<div class="t r" style="left:354.30px;top:439px;width:58.70px">8 mesačne</div>
<div class="t r" style="left:414.50px;top:439px;width:59.50px">6 nádob</div>
<div class="t c" style="left:477.50px;top:439px;width:40.00px">ks</div>
<div class="t r" style="left:517.50px;top:439px;width:57.50px">288</div>
<div class="t r" style="left:636.50px;top:439px;width:56.80px">288</div>
<div class="t r" style="left:695.50px;top:439px;width:72.50px">28,130</div>
<div class="t r" style="left:769.50px;top:439px;width:73.50px">8 101,44</div>
<div class="t c" style="left:844.50px;top:439px;width:51.80px">23%</div>
<div class="t r" style="left:896.30px;top:439px;width:72.70px">1&#8201;863,33</div>
<div class="t r" style="left:970.50px;top:439px;width:73.20px">9 964,77</div>
<div class="t r" style="left:1045.20px;top:439px;width:72.80px">39 859,08</div>
<div class="t l" style="left:203.90px;top:449px;width:150.40px">odvoz MOK m.č. Revúčka</div>
<div class="t r" style="left:354.30px;top:449px;width:58.70px">2 mesačne</div>
<div class="t r" style="left:414.50px;top:449px;width:59.50px">2 nádob</div>
<div class="t c" style="left:477.50px;top:449px;width:40.00px">ks</div>
<div class="t r" style="left:517.50px;top:449px;width:57.50px">48</div>
<div class="t r" style="left:636.50px;top:449px;width:56.80px">48</div>
<div class="t r" style="left:695.50px;top:449px;width:72.50px">28,130</div>
<div class="t r" style="left:769.50px;top:449px;width:73.50px">1 350,24</div>
<div class="t c" style="left:844.50px;top:449px;width:51.80px">23%</div>
<div class="t r" style="left:896.30px;top:449px;width:72.70px">310,56</div>
<div class="t r" style="left:970.50px;top:449px;width:73.20px">1 660,80</div>
<div class="t r" style="left:1045.20px;top:449px;width:72.80px">6 643,20</div>
<div class="t c" style="left:32.50px;top:464px;width:49.90px">8</div>
<div class="t l" style="left:83.70px;top:459px;width:118.90px">Zber a odvoz odpadu z</div>
<div class="t l" style="left:83.70px;top:469px;width:118.90px">príležitostných podujatí</div>
<div class="t l" style="left:203.90px;top:459px;width:150.40px">odvoz 1100 l ZN</div>
<div class="t r" style="left:354.30px;top:459px;width:58.70px">4 krát do roka</div>
<div class="t r" style="left:414.50px;top:459px;width:59.50px">4 nádob</div>
<div class="t c" style="left:477.50px;top:459px;width:40.00px">ks</div>
<div class="t r" style="left:517.50px;top:459px;width:57.50px">16</div>
<div class="t r" style="left:636.50px;top:459px;width:56.80px">16</div>
<div class="t r" style="left:695.50px;top:459px;width:72.50px">6,560</div>
<div class="t r" style="left:769.50px;top:459px;width:73.50px">104,96</div>
<div class="t c" style="left:844.50px;top:459px;width:51.80px">23%</div>
<div class="t r" style="left:896.30px;top:459px;width:72.70px">24,14</div>
<div class="t r" style="left:970.50px;top:459px;width:73.20px">129,10</div>
<div class="t r" style="left:1045.20px;top:459px;width:72.80px">516,40</div>
<div class="t l" style="left:203.90px;top:470px;width:150.40px">odvoz vrecia</div>
<div class="t r" style="left:354.30px;top:470px;width:58.70px">4 krát do roka</div>
<div class="t r" style="left:414.50px;top:470px;width:59.50px">45 vriec</div>
<div class="t c" style="left:477.50px;top:470px;width:40.00px">ks</div>
<div class="t r" style="left:517.50px;top:470px;width:57.50px">180</div>
<div class="t r" style="left:636.50px;top:470px;width:56.80px">180</div>
<div class="t r" style="left:695.50px;top:470px;width:72.50px">1,110</div>
<div class="t r" style="left:769.50px;top:470px;width:73.50px">199,80</div>
<div class="t c" style="left:844.50px;top:470px;width:51.80px">23%</div>
<div class="t r" style="left:896.30px;top:470px;width:72.70px">45,95</div>
<div class="t r" style="left:970.50px;top:470px;width:73.20px">245,75</div>
<div class="t r" style="left:1045.20px;top:470px;width:72.80px">983,00</div>
<div class="t c" style="left:32.50px;top:496px;width:49.90px">9</div>
<div class="t l" style="left:83.70px;top:491px;width:118.90px">Zhodnotenie a zneškodnenie</div>
<div class="t l" style="left:83.70px;top:500px;width:118.90px">odpadov</div>
<div class="t l" style="left:203.90px;top:480px;width:150.40px">drobný stavebný odpad</div>
<div class="t r" style="left:354.30px;top:480px;width:58.70px">1 ročne</div>
<div class="t r" style="left:414.50px;top:480px;width:59.50px">132,38 t</div>
<div class="t c" style="left:477.50px;top:480px;width:40.00px">t</div>
<div class="t r sm" style="left:517.50px;top:481px;width:57.50px">132,38</div>
<div class="t r" style="left:576.50px;top:480px;width:57.50px">13,23</div>
<div class="t r" style="left:636.50px;top:480px;width:56.80px">145,61</div>
<div class="t r" style="left:695.50px;top:480px;width:72.50px">65,250</div>
<div class="t r" style="left:769.50px;top:480px;width:73.50px">9 501,05</div>
<div class="t c" style="left:844.50px;top:480px;width:51.80px">23%</div>
<div class="t r" style="left:896.30px;top:480px;width:72.70px">2&#8201;185,24</div>
<div class="t r" style="left:970.50px;top:480px;width:73.20px">11 686,29</div>
<div class="t r" style="left:1045.20px;top:480px;width:72.80px">46 745,16</div>
<div class="t l" style="left:203.90px;top:491px;width:150.40px">zmesový komunálny odpad</div>
<div class="t r" style="left:354.30px;top:491px;width:58.70px">1 ročne</div>
<div class="t r" style="left:414.50px;top:491px;width:59.50px">1942,592 t</div>
<div class="t c" style="left:477.50px;top:491px;width:40.00px">t</div>
<div class="t r sm" style="left:517.50px;top:492px;width:57.50px">1&#8201;942,59</div>
<div class="t r" style="left:576.50px;top:491px;width:57.50px">194,25</div>
<div class="t r" style="left:636.50px;top:491px;width:56.80px">2 136,84</div>
<div class="t r" style="left:695.50px;top:491px;width:72.50px">65,250</div>
<div class="t r" style="left:769.50px;top:491px;width:73.50px">139 428,81</div>
<div class="t c" style="left:844.50px;top:491px;width:51.80px">23%</div>
<div class="t r" style="left:896.30px;top:491px;width:72.70px">32&#8201;068,63</div>
<div class="t r" style="left:970.50px;top:491px;width:73.20px">171 497,44</div>
<div class="t r" style="left:1045.20px;top:491px;width:72.80px">685 989,76</div>
<div class="t l" style="left:203.90px;top:501px;width:150.40px">objemný odpad</div>
<div class="t r" style="left:354.30px;top:501px;width:58.70px">1 ročne</div>
<div class="t r" style="left:414.50px;top:501px;width:59.50px">1423 t</div>
<div class="t c" style="left:477.50px;top:501px;width:40.00px">t</div>
<div class="t r sm" style="left:517.50px;top:502px;width:57.50px">1&#8201;423,00</div>
<div class="t r" style="left:576.50px;top:501px;width:57.50px">142,30</div>
<div class="t r" style="left:636.50px;top:501px;width:56.80px">1 565,30</div>
<div class="t r" style="left:695.50px;top:501px;width:72.50px">65,250</div>
<div class="t r" style="left:769.50px;top:501px;width:73.50px">102 135,83</div>
<div class="t c" style="left:844.50px;top:501px;width:51.80px">23%</div>
<div class="t r" style="left:896.30px;top:501px;width:72.70px">23&#8201;491,24</div>
<div class="t r" style="left:970.50px;top:501px;width:73.20px">125 627,07</div>
<div class="t r" style="left:1045.20px;top:501px;width:72.80px">502 508,28</div>
<div class="t l" style="left:203.90px;top:512px;width:150.40px">nebezpečné odpady 150110, 150202</div>
<div class="t r" style="left:354.30px;top:512px;width:58.70px">1 ročne</div>
<div class="t r" style="left:414.50px;top:512px;width:59.50px">2 t</div>
<div class="t c" style="left:477.50px;top:512px;width:40.00px">t</div>
<div class="t r sm" style="left:517.50px;top:513px;width:57.50px">2,00</div>
<div class="t r" style="left:576.50px;top:512px;width:57.50px">0,20</div>
<div class="t r" style="left:636.50px;top:512px;width:56.80px">2,20</div>
<div class="t r" style="left:695.50px;top:512px;width:72.50px">552,500</div>
<div class="t r" style="left:769.50px;top:512px;width:73.50px">1 215,50</div>
<div class="t c" style="left:844.50px;top:512px;width:51.80px">23%</div>
<div class="t r" style="left:896.30px;top:512px;width:72.70px">279,57</div>
<div class="t r" style="left:970.50px;top:512px;width:73.20px">1 495,07</div>
<div class="t r" style="left:1045.20px;top:512px;width:72.80px">5 980,28</div>
<div class="t c b" style="left:32.50px;top:528px;width:321.80px">CELKOM</div>
<div class="t c b" style="left:475.50px;top:528px;width:42.00px">-</div>
<div class="t c b" style="left:517.50px;top:528px;width:59.00px">-</div>
<div class="t c b" style="left:576.50px;top:528px;width:60.00px">-</div>
<div class="t c b" style="left:636.50px;top:528px;width:59.00px">-</div>
<div class="t c b" style="left:695.50px;top:528px;width:74.00px">-</div>
<div class="t r b" style="left:769.50px;top:528px;width:73.50px">605 823,85</div>
<div class="t c b" style="left:844.50px;top:528px;width:51.80px">-</div>
<div class="t r b" style="left:896.30px;top:528px;width:72.70px">139 339,47</div>
<div class="t r b" style="left:970.50px;top:528px;width:73.20px">745 163,32</div>
<div class="t r b" style="left:1045.20px;top:528px;width:72.80px">2 980 653,28</div>
<div class="t r lab" style="left:10.00px;top:54px;width:69.50px">obchodné meno:</div>
<div class="t c val" style="left:82.00px;top:54px;width:272.30px">Brantner Gemer s.r.o.</div>
<div class="t r lab" style="left:350.00px;top:54px;width:62.30px">štat. zástupca:</div>
<div class="t c val" style="left:415.00px;top:54px;width:161.70px">Ing. Ladislav Šalamon - konateľ</div>
<div class="t r lab" style="left:10.00px;top:69px;width:69.50px">sídlo:</div>
<div class="t c val" style="left:82.00px;top:69px;width:272.30px">Košická cesta 344 , 979 01 Rimavská Sobota</div>
<div class="t r lab" style="left:350.00px;top:69px;width:62.30px">štat. zástupca:</div>
<div class="t c val" style="left:415.00px;top:69px;width:161.70px">Pavel Törköly - prokurista</div>
<div class="t r lab" style="left:10.00px;top:85px;width:69.50px">IČO:</div>
<div class="t c val" style="left:82.00px;top:85px;width:272.30px">36 021 211</div>
<div class="t r lab" style="left:350.00px;top:85px;width:62.30px">miesto vystavenia:</div>
<div class="t c val" style="left:415.00px;top:85px;width:161.70px">Rimavská Sobota</div>
<div class="t r lab" style="left:10.00px;top:100px;width:69.50px">IČ DPH:</div>
<div class="t c val" style="left:82.00px;top:100px;width:272.30px">SK 2020074551</div>
<div class="t r lab" style="left:350.00px;top:100px;width:62.30px">dátum vystavenia:</div>
<div class="t c val" style="left:415.00px;top:100px;width:161.70px">2.12.2024</div>
<svg class="g" width="1223" height="574" viewBox="0 0 1223 574"><rect x="28.75" y="413.45" width="1172.6" height="29.7" fill="none" stroke="#d8202a" stroke-width="2.9"/></svg>
</body></html>
